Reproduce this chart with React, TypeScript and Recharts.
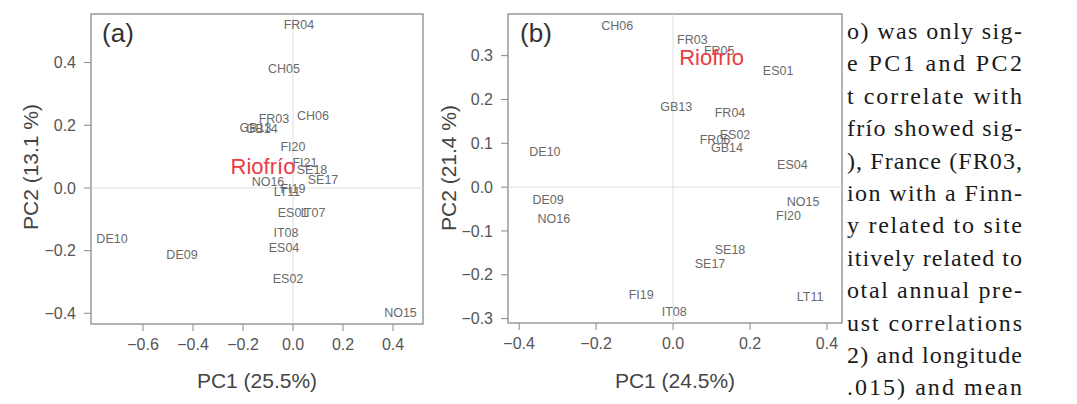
import { ScatterChart, Scatter, XAxis, YAxis, ReferenceLine, ReferenceArea } from "recharts";

// panel (a) site scores
const sitesA = ["FR04", "CH05", "CH06", "FR03", "GB13", "GB14", "FI20", "FI21", "SE18", "SE17", "NO16", "LT11", "FI19", "ES01", "IT07", "IT08", "ES04", "ES02", "DE10", "DE09", "NO15"];
const pc1A = [0.024, -0.036, 0.08, -0.076, -0.15, -0.125, 0.0, 0.048, 0.076, 0.12, -0.1, -0.024, 0.0, 0.0, 0.08, -0.028, -0.036, -0.02, -0.724, -0.444, 0.43];
const pc2A = [0.52, 0.38, 0.23, 0.22, 0.19, 0.187, 0.13, 0.08, 0.057, 0.025, 0.02, -0.012, -0.003, -0.08, -0.08, -0.144, -0.19, -0.29, -0.163, -0.214, -0.4];

// panel (b) site scores
const sitesB = ["CH06", "FR03", "FR05", "ES01", "GB13", "FR04", "FR06", "ES02", "GB14", "ES04", "DE10", "DE09", "NO16", "NO15", "FI20", "SE18", "SE17", "FI19", "IT08", "LT11"];
const pc1B = [-0.145, 0.05, 0.12, 0.273, 0.008, 0.148, 0.109, 0.161, 0.14, 0.31, -0.333, -0.325, -0.31, 0.338, 0.3, 0.148, 0.096, -0.083, 0.003, 0.356];
const pc2B = [0.368, 0.336, 0.31, 0.265, 0.183, 0.17, 0.107, 0.119, 0.089, 0.05, 0.08, -0.03, -0.073, -0.034, -0.066, -0.144, -0.176, -0.247, -0.285, -0.251];

// focal site
const focalName = "Riofrío";
const focalA = [-0.12, 0.07];
const focalB = [0.1, 0.295];

const ticksXA = [-0.6, -0.4, -0.2, 0, 0.2, 0.4];
const ticksYA = [-0.4, -0.2, 0, 0.2, 0.4];
const ticksXB = [-0.4, -0.2, 0, 0.2, 0.4];
const ticksYB = [-0.3, -0.2, -0.1, 0, 0.1, 0.2, 0.3];

// body text cut off beside the figure
const textLines = [
  "o) was only sig-",
  "e PC1 and PC2",
  "t correlate with",
  "frío showed sig-",
  "), France (FR03,",
  "ion with a Finn-",
  "y related to site",
  "itively related to",
  "otal annual pre-",
  "ust correlations",
  "2) and longitude",
  ".015) and mean",
];

const fmt = (v: number) => v.toFixed(1).replace("-", "\u2212");
const tickStyle = { fill: "#555", fontSize: 16, fontFamily: "Liberation Sans, Arial, sans-serif" };

const SiteLabel = (props: any) => (
  <text x={props.cx} y={props.cy} textAnchor="middle" dominantBaseline="central"
    fontSize={12.5} fill="#6a6a6a" fontFamily="Liberation Sans, Arial, sans-serif">
    {props.payload.name}
  </text>
);

const FocalLabel = (props: any) => (
  <text x={props.cx} y={props.cy} textAnchor="middle" dominantBaseline="central"
    fontSize={22} fill="#ec3a42" fontFamily="Liberation Sans, Arial, sans-serif">
    {props.payload.name}
  </text>
);

function Panel({ names, xs, ys, focal, xDomain, yDomain, xTicks, yTicks, width, yAxisWidth, right, bottom }: any) {
  const rows = names.map((n: string, i: number) => ({ name: n, x: xs[i], y: ys[i] }));
  const focalRow = [{ name: focalName, x: focal[0], y: focal[1] }];
  return (
    <ScatterChart width={width} height={404} margin={{ top: 14, right, bottom: bottom - 30, left: 0 }}>
      <XAxis type="number" dataKey="x" domain={xDomain} ticks={xTicks} allowDataOverflow interval={0}
        axisLine={false} tickLine={{ stroke: "#888" }} tickSize={7} tickMargin={8} tick={tickStyle}
        tickFormatter={fmt} height={30} />
      <YAxis type="number" dataKey="y" domain={yDomain} ticks={yTicks} allowDataOverflow interval={0}
        axisLine={false} tickLine={{ stroke: "#888" }} tickSize={7} tickMargin={8} tick={tickStyle}
        tickFormatter={fmt} width={yAxisWidth} />
      <ReferenceLine x={0} stroke="#dedede" />
      <ReferenceLine y={0} stroke="#dedede" />
      <ReferenceArea x1={xDomain[0]} x2={xDomain[1]} y1={yDomain[0]} y2={yDomain[1]}
        fill="none" stroke="#999" strokeWidth={1.5} />
      <Scatter data={rows} shape={SiteLabel} isAnimationActive={false} />
      <Scatter data={focalRow} shape={FocalLabel} isAnimationActive={false} />
    </ScatterChart>
  );
}

export default function App() {
  const titleFont = "Liberation Sans, Arial, sans-serif";
  return (
    <div style={{ position: "fixed", left: 0, top: 0, width: 1077, height: 404, background: "#fff", overflow: "hidden" }}>
      <div style={{ position: "absolute", left: 0, top: 0 }}>
        <Panel names={sitesA} xs={pc1A} ys={pc2A} focal={focalA}
          xDomain={[-0.808, 0.52]} yDomain={[-0.434, 0.555]} xTicks={ticksXA} yTicks={ticksYA}
          width={430} yAxisWidth={91} right={7} bottom={80} />
      </div>
      <div style={{ position: "absolute", left: 430, top: 0 }}>
        <Panel names={sitesB} xs={pc1B} ys={pc2B} focal={focalB}
          xDomain={[-0.429, 0.439]} yDomain={[-0.31, 0.395]} xTicks={ticksXB} yTicks={ticksYB}
          width={420} yAxisWidth={78} right={8} bottom={81} />
      </div>
      <svg width={1077} height={404} style={{ position: "absolute", left: 0, top: 0, pointerEvents: "none" }}>
        <text x={118} y={33} fontSize={26} fill="#333" textAnchor="middle" dominantBaseline="central" fontFamily={titleFont}>(a)</text>
        <text x={536} y={33} fontSize={26} fill="#333" textAnchor="middle" dominantBaseline="central" fontFamily={titleFont}>(b)</text>
        <text x={257} y={380} fontSize={21} fill="#444" textAnchor="middle" dominantBaseline="central" fontFamily={titleFont}>PC1 (25.5%)</text>
        <text x={675} y={380} fontSize={21} fill="#444" textAnchor="middle" dominantBaseline="central" fontFamily={titleFont}>PC1 (24.5%)</text>
        <text transform="translate(30,167) rotate(-90)" fontSize={21} fill="#444" textAnchor="middle" dominantBaseline="central" fontFamily={titleFont}>PC2 (13.1 %)</text>
        <text transform="translate(448,168) rotate(-90)" fontSize={21} fill="#444" textAnchor="middle" dominantBaseline="central" fontFamily={titleFont}>PC2 (21.4 %)</text>
        {textLines.map((l, i) => (
          <text key={l} x={847} y={39 + i * 32.4} textLength={175} lengthAdjust="spacing"
            fontSize={24} fill="#1a1a1a" fontFamily="Liberation Serif, Times New Roman, serif">
            {l}
          </text>
        ))}
      </svg>
    </div>
  );
}
